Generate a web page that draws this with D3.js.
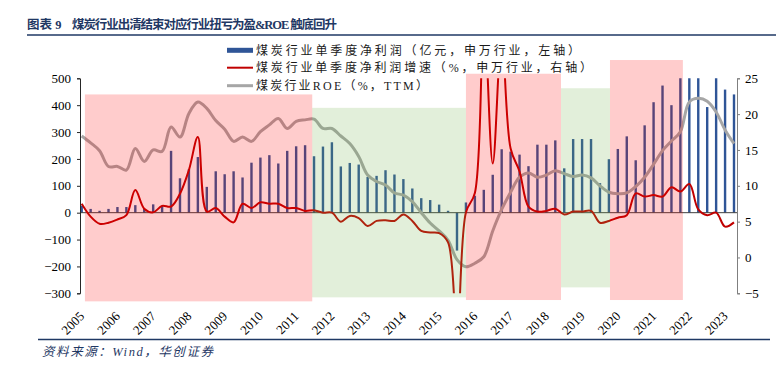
<!DOCTYPE html>
<html>
<head>
<meta charset="utf-8">
<script src="https://cdn.jsdelivr.net/npm/d3@7"></script>
<style>
  body { margin: 0; background: #fff; }
  svg { display: block; }
  text { font-family: "Liberation Serif", "Noto Sans CJK SC", serif; }
</style>
</head>
<body>
<svg id="vis" width="776" height="367"></svg>
<script>
// year tick labels, one category per quarter (2005Q1 .. 2023Q2)
var years = [2005, 2006, 2007, 2008, 2009, 2010, 2011, 2012, 2013, 2014,
             2015, 2016, 2017, 2018, 2019, 2020, 2021, 2022, 2023];
var quarterCount = 74;

// single-quarter net profit, 100m yuan (left axis)
var profit = [26, 14, 7, 14, 21, 21, 28, 14, 31, 26,
              230, 128, 162, 207, 96, 154, 143, 154, 131, 186,
              205, 214, 183, 230, 247, 251, 210, 246, 262, 172,
              185, 179, 133, 137, 158, 142, 125, 90, 54, 47,
              30, 7, -141, 38, 63, 85, 141, 236, 227, 216,
              173, 253, 253, 269, 165, 274, 274, 274, 110, 199,
              237, 284, 195, 325, 411, 473, 400, 560, 610, 540,
              393, 520, 458, 440];

// net profit growth (right axis)
var growth = [7.5, 5.7, 4.7, 4.85, 5.3, 5.9, 9.4, 6.8, 6.3, 7.2,
              7.1, 8.9, 12.2, 16.8, 6.4, 6.9, 5.7, 4.9, 7.5, 6.9,
              7.7, 7.5, 7.5, 6.9, 6.9, 6.5, 6.6, 6.25, 6.25, 5.0,
              5.8, 5.5, 4.4, 5.1, 5.2, 5.1, 6.0, 5.1, 3.7, 3.5,
              3.4, 2.1, -11, 6.3, 9, 34, 13.1, 31, 15.2, 12.0,
              7.1, 6.4, 6.5, 6.8, 6.0, 6.4, 6.4, 6.5, 4.85, 5.1,
              5.55, 5.9, 8.95, 8.5, 8.7, 8.5, 9.8, 9.2, 10.25, 6.7,
              5.9, 6.25, 4.3, 4.9];

// ROE TTM, % (right axis)
var roe = [16.95, 16.0, 14.9, 12.7, 12.7, 12.2, 15.2, 13.4, 15.0, 14.8,
           18.2, 16.8, 20.1, 21.7, 20.8, 19.1, 17.9, 16.2, 16.8, 16.2,
           17.55, 18.5, 19.4, 18.0, 19.0, 19.2, 19.3, 18.0, 18.0, 16.95,
           15.9, 14.1, 11.5, 10.6, 10.1, 9.0, 8.7, 7.8, 6.25, 4.8,
           3.7, 2.4, -0.3, -1.3, -0.8, 0.1, 3.7, 6.7, 9.1, 11.2,
           11.8, 11.2, 11.5, 12.1, 11.7, 11.3, 11.5, 11.1, 10.0, 9.1,
           8.9, 9.0, 9.9, 11.2, 13.0, 14.9, 16.25, 17.55, 21.7, 22.2,
           21.8, 20.3, 17.8, 15.9];

// highlighted phases (pink = loss to profit turn, green = clearing)
var phaseStart = [2005.09, 2011.45, 2015.75, 2018.41, 2019.78];
var phaseEnd   = [2011.45, 2015.75, 2018.41, 2019.78, 2021.82];
var phaseKind  = ["pink", "green", "pink", "green", "pink"];

var legendNames = ["煤炭行业单季度净利润（亿元，申万行业，左轴）",
                   "煤炭行业单季度净利润增速（%，申万行业，右轴）",
                   "煤炭行业ROE（%，TTM）"];

var vis = d3.select("#vis");
var navy = "#1f3864";

// quarter -> decimal year
function qt(i) { return 2005 + i / 4; }

var x = d3.scaleLinear().domain([2005, 2023.25]).range([81.7, 734]);
var yL = d3.scaleLinear().domain([-300, 500]).range([293.3, 78.3]);
var yR = d3.scaleLinear().domain([-5, 25]).range([293.3, 78.3]);

// title
vis.append("text").attr("x", 27).attr("y", 29)
    .attr("font-size", "12.5px").attr("font-weight", "bold").attr("fill", navy)
    .text("图表 9");
vis.append("text").attr("x", 72).attr("y", 29)
    .attr("font-size", "12.5px").attr("font-weight", "bold").attr("fill", navy)
    .attr("textLength", 265).attr("lengthAdjust", "spacing")
    .text("煤炭行业出清结束对应行业扭亏为盈&ROE 触底回升");
vis.append("line").attr("x1", 27).attr("x2", 776).attr("y1", 35).attr("y2", 35)
    .attr("stroke", navy).attr("stroke-width", 1.6);

// plot clip
vis.append("clipPath").attr("id", "plot")
    .append("rect").attr("x", 80).attr("y", 78.3).attr("width", 657).attr("height", 215);

var idx = d3.range(quarterCount);

// bars
vis.append("g").attr("clip-path", "url(#plot)")
    .selectAll("rect").data(idx).join("rect")
    .attr("x", i => x(qt(i)) - 1.2)
    .attr("width", 2.4)
    .attr("y", i => Math.min(yL(profit[i]), yL(0)))
    .attr("height", i => Math.abs(yL(profit[i]) - yL(0)))
    .attr("fill", "#2f5597");

// zero line
vis.append("line").attr("x1", 80).attr("x2", 737)
    .attr("y1", yL(0)).attr("y2", yL(0))
    .attr("stroke", "#404040").attr("stroke-width", 1);

// lines
var lineR = (arr) => d3.line()
    .x(i => x(qt(i)))
    .y(i => yR(arr[i]))
    .curve(d3.curveCatmullRom.alpha(0.5))(idx);

vis.append("path").attr("clip-path", "url(#plot)")
    .attr("d", lineR(roe))
    .attr("fill", "none").attr("stroke", "#a6a6a6").attr("stroke-width", 3);
vis.append("path").attr("clip-path", "url(#plot)")
    .attr("d", lineR(growth))
    .attr("fill", "none").attr("stroke", "#c00000").attr("stroke-width", 2);

// translucent phase boxes on top (vertical extent in left-axis units)
var phaseTop = [440, 390, 517, 463, 568];
var phaseBottom = [-330, -315, -325, -278, -325];
vis.append("g").selectAll("rect").data(d3.range(phaseStart.length)).join("rect")
    .attr("x", i => x(phaseStart[i]))
    .attr("width", i => x(phaseEnd[i]) - x(phaseStart[i]))
    .attr("y", i => yL(phaseTop[i]))
    .attr("height", i => yL(phaseBottom[i]) - yL(phaseTop[i]))
    .attr("fill", i => phaseKind[i] == "pink" ? "#ff0000" : "#70ad47")
    .attr("fill-opacity", 0.2);

// axes
var axL = vis.append("g").attr("transform", "translate(80,0)")
    .call(d3.axisLeft(yL).tickValues(d3.range(-300, 501, 100)).tickSize(3).tickPadding(6));
var axR = vis.append("g").attr("transform", "translate(737,0)")
    .call(d3.axisRight(yR).tickValues(d3.range(-5, 26, 5)).tickSize(3).tickPadding(5));
axL.select(".domain").attr("stroke", "#262626");
axL.selectAll(".tick line").attr("stroke", "#262626");
axR.select(".domain").attr("stroke", "#7f7f7f");
axR.selectAll(".tick line").attr("stroke", "#7f7f7f");
vis.selectAll(".tick text")
    .attr("font-family", "Liberation Serif").attr("font-size", "13px").attr("fill", "#000");

// year labels
vis.append("g").selectAll("text").data(years).join("text")
    .attr("transform", d => `translate(${x(d) + 3.5},317) rotate(-45)`)
    .attr("text-anchor", "end")
    .attr("font-size", "13px").attr("fill", "#000")
    .text(d => d);

// legend
var legendY = [50.3, 67.7, 85.7];
var legendW = [324, 336, 172];
var leg = vis.append("g");
leg.append("rect").attr("x", 227).attr("y", legendY[0] - 2.5).attr("width", 26).attr("height", 5)
    .attr("fill", "#2f5597");
leg.append("line").attr("x1", 227).attr("x2", 253).attr("y1", legendY[1]).attr("y2", legendY[1])
    .attr("stroke", "#c00000").attr("stroke-width", 2);
leg.append("line").attr("x1", 227).attr("x2", 253).attr("y1", legendY[2]).attr("y2", legendY[2])
    .attr("stroke", "#a6a6a6").attr("stroke-width", 3);
leg.selectAll("text").data(legendNames).join("text")
    .attr("x", 256).attr("y", (d, i) => legendY[i] + 4.3)
    .attr("font-size", "12px").attr("fill", "#1a1a1a")
    .attr("textLength", (d, i) => legendW[i]).attr("lengthAdjust", "spacing")
    .text(d => d);

// footer
vis.append("line").attr("x1", 38).attr("x2", 770).attr("y1", 339.5).attr("y2", 339.5)
    .attr("stroke", navy).attr("stroke-width", 1.6);
vis.append("text").attr("x", 42).attr("y", 356)
    .attr("font-size", "12.5px").attr("font-style", "italic").attr("fill", navy)
    .attr("textLength", 171).attr("lengthAdjust", "spacing")
    .text("资料来源：Wind，华创证券");
</script>
</body>
</html>
